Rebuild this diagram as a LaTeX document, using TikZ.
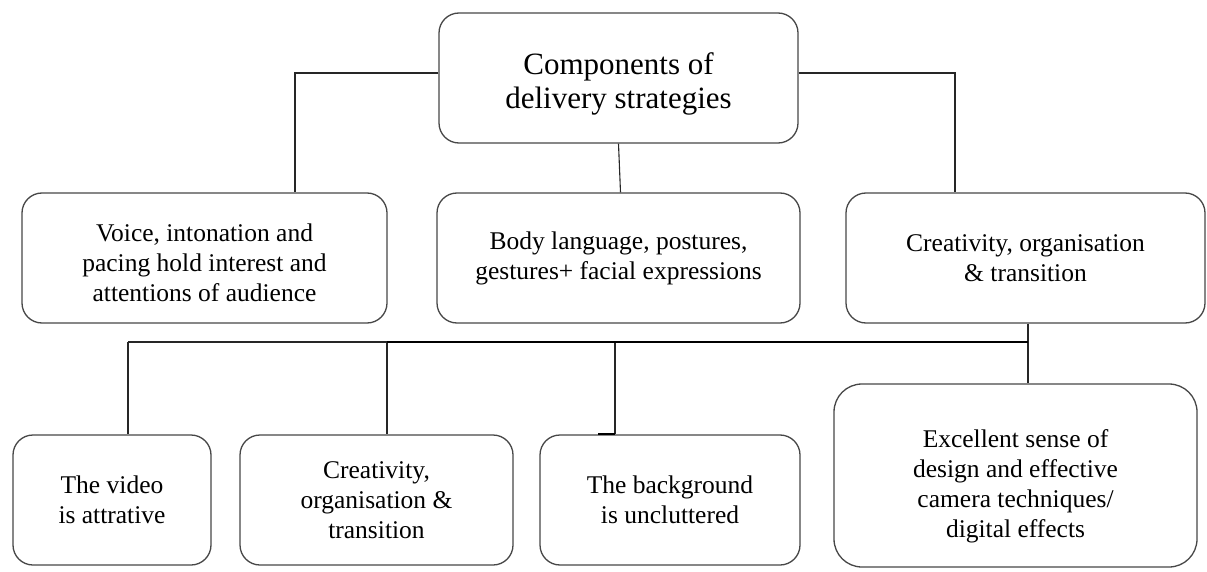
\documentclass[tikz,border=0pt]{standalone}
\usepackage{fontspec}
\setmainfont{Liberation Serif}
\begin{document}
\begin{tikzpicture}[x=1pt,y=-1pt,
  box/.style={draw=black!72, line width=1.3pt, rounded corners=20pt, align=center, inner sep=0pt,
    minimum height=130pt, font=\fontsize{25.5}{30}\selectfont},
  conn/.style={draw=black!85, line width=1.1pt},
  bus/.style={draw=black, line width=2.4pt}]
\useasboundingbox (0,0) rectangle (1207,572);
% top
\node[box, minimum width=359pt, font=\fontsize{31}{34}\selectfont, text height=68pt] (top) at (618.5,78) {Components of\\delivery strategies};
% row 2
\node[box, minimum width=365pt, text height=88pt] (voice) at (204.5,258) {Voice, intonation and\\pacing hold interest and\\attentions of audience};
\node[box, minimum width=363pt] (body) at (618.5,258) {Body language, postures,\\gestures+ facial expressions};
\node[box, minimum width=359pt] (creat) at (1025.5,258) {Creativity, organisation\\\& transition};
% row 3
\node[box, minimum width=198pt] (v1) at (112,500) {The video\\is attrative};
\node[box, minimum width=273pt] (v2) at (376.5,500) {Creativity,\\organisation \&\\transition};
\node[box, minimum width=260pt] (v3) at (670,500) {The background\\is uncluttered};
\node[box, minimum width=363pt, minimum height=183pt, rounded corners=28pt, text height=130pt] (v4) at (1015.5,475.5) {Excellent sense of\\design and effective\\camera techniques/\\digital effects};
% top connectors
\draw[conn] ([yshift=5pt]top.west) -| ([xshift=90.5pt]voice.north);
\draw[conn] ([yshift=5pt]top.east) -| ([xshift=-70.5pt]creat.north);
\draw[conn] (top.south) -- ([xshift=2pt]body.north);
% bus
\coordinate (j1) at (128,342);
\coordinate (j2) at (387,342);
\coordinate (j3) at (615,342);
\coordinate (j4) at (1028,342);
\draw[conn] (creat.south -| j4) -- (j4 |- v4.north);
\draw[conn] (j1) -- (j1 |- v1.north);
\draw[conn] (j2) -- (j2 |- v2.north);
\draw[conn] (j3) -- (j3 |- v3.north);
\draw[line width=1.8pt] (j3 |- v3.north) -- ++(-17,0);
\draw[conn] (j1) -- (j2);
\draw[bus] (j2) -- (j4);
\end{tikzpicture}
\end{document}
